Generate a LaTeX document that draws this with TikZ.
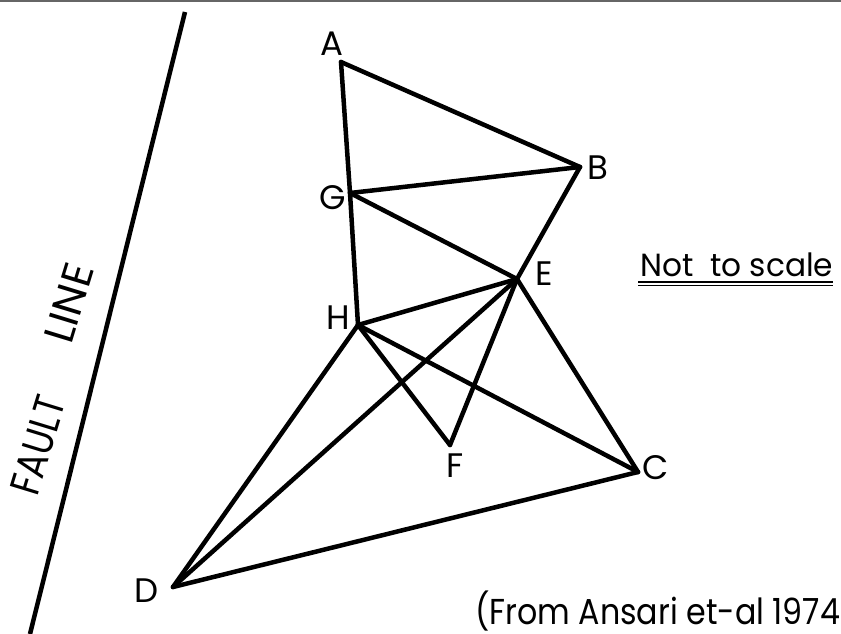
\documentclass[tikz,border=0pt]{standalone}
\usepackage{fontspec}
\setmainfont{Poppins}
\begin{document}
\begin{tikzpicture}[x=1pt,y=-1pt,
  lab/.style={inner sep=0pt,font=\fontsize{34}{36}\selectfont},
  edge/.style={line width=4.5pt,line cap=round,line join=round},
  big/.style={inner sep=0pt,font=\fontsize{32}{34}\selectfont},
  bigger/.style={inner sep=0pt,font=\fontsize{36}{38}\selectfont},
  fl/.style={inner sep=0pt,font=\fontsize{42}{44}\selectfont}]
\useasboundingbox[fill=white] (0,0) rectangle (841,634);
% scan edge at the top
\coordinate (t1) at (0,1);
\coordinate (t2) at (841,1);
\draw[black!60,line width=2pt] (t1) -- (t2);
% points
\coordinate (A) at (341,62);
\coordinate (B) at (580,167);
\coordinate (G) at (350,193);
\coordinate (E) at (517,279);
\coordinate (H) at (358,325);
\coordinate (F) at (450,445);
\coordinate (C) at (638,472);
\coordinate (D) at (173,587);
% labels
\node[lab] (lA) at (332,44) {A};
\node[lab] (lB) at (598,168) {B};
\node[lab] (lG) at (333,198) {G};
\node[lab] (lE) at (544,274) {E};
\node[lab] (lH) at (338,318) {H};
\node[lab] (lF) at (455,466) {F};
\node[lab] (lC) at (656,468) {C};
\node[lab] (lD) at (147,591) {D};
% edges
\draw[edge] (A) -- (G) -- (H);
\draw[edge] (A) -- (B);
\draw[edge] (G) -- (B);
\draw[edge] (B) -- (E);
\draw[edge] (G) -- (E);
\draw[edge] (H) -- (E);
\draw[edge] (H) -- (F);
\draw[edge] (F) -- (E);
\draw[edge] (H) -- (C);
\draw[edge] (E) -- (C);
\draw[edge] (H) -- (D);
\draw[edge] (E) -- (D);
\draw[edge] (D) -- (C);
% fault line
\coordinate (f1) at (185,12);
\coordinate (f2) at (30,634);
\draw[line width=4.5pt] (f1) -- (f2);
\node[fl,rotate=73] (fault) at (38,445) {\resizebox{100pt}{\height}{FAULT}};
\node[fl,rotate=73] (line) at (69,303) {\resizebox{80pt}{\height}{LINE}};
% note
\node[big,anchor=base west] (nts) at (640,276) {\resizebox{193pt}{\height}{Not\ \ to scale}};
\coordinate (u1) at (638,282);
\coordinate (u2) at (833,282);
\coordinate (u3) at (638,285.5);
\coordinate (u4) at (833,285.5);
\draw[line width=2.2pt] (u1) -- (u2);
\draw[line width=1.2pt] (u3) -- (u4);
\node[bigger,anchor=base west] (src) at (475,624) {\resizebox{365pt}{\height}{(From Ansari et-al 1974}};
\end{tikzpicture}
\end{document}
